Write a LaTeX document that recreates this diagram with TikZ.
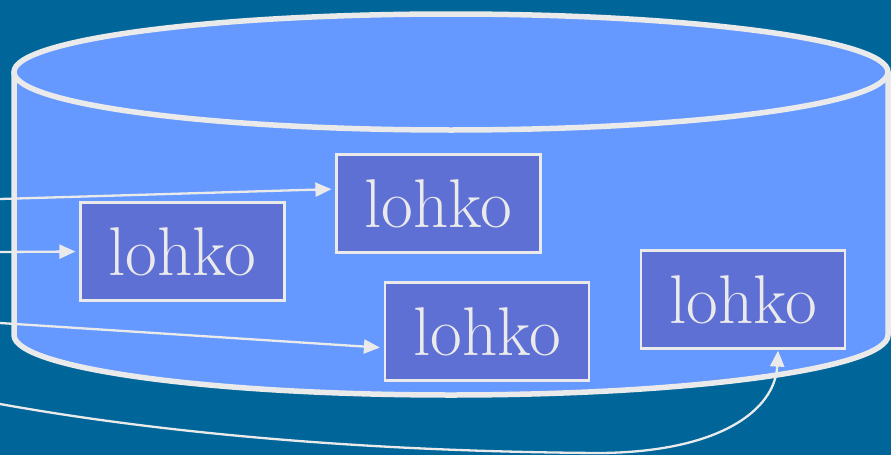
\documentclass[tikz,border=0pt]{standalone}
\usepackage{tikz}
\usetikzlibrary{positioning,arrows.meta}
\definecolor{bg}{RGB}{0,102,153}
\definecolor{cylfill}{RGB}{102,153,255}
\definecolor{blkfill}{RGB}{95,112,213}
\definecolor{edge}{RGB}{234,234,234}

\begin{document}
\begin{tikzpicture}[x=1pt,y=-1pt,
    >={Triangle[length=16pt,width=14pt]},
    blk/.style={draw=edge,line width=2.2pt,fill=blkfill,text=edge,minimum width=204pt,
      minimum height=98pt,inner sep=0pt,font=\fontsize{69}{70}\selectfont},
    lnk/.style={draw=edge,line width=2.3pt,->,shorten >=4pt},
    cyl/.style={draw=edge,line width=5.5pt}]
  \fill[bg] (0,0) rectangle (891,455);
  \useasboundingbox (0,0) rectangle (891,455);
  % disk
  \fill[cylfill] (14,72) -- (14,335) arc[start angle=180,end angle=0,x radius=437,y radius=60] -- (888,72) -- cycle;
  \fill[cylfill] (451,72) ellipse[x radius=437,y radius=58];
  \draw[cyl] (14,72) -- (14,335) arc[start angle=180,end angle=0,x radius=437,y radius=60] -- (888,72);
  \draw[cyl] (451,72) ellipse[x radius=437,y radius=58];
  % blocks
  \node[blk] (b1) at (438.5,203.5) {lohko};
  \node[blk] (b2) at (182.5,251.5) {lohko};
  \node[blk] (b3) at (487,331.5) {lohko};
  \node[blk] (b4) at (743,299.5) {lohko};
  \coordinate (in1) at (0,199);
  \coordinate (in2) at (0,252);
  \coordinate (in3) at (0,323);
  \coordinate (in4) at (0,404);
  \draw[lnk] (in1) -- (b1.172);
  \draw[lnk] (in2) -- (b2.west);
  \draw[lnk] (in3) -- (b3.189);
  \draw[lnk,shorten >=1pt] (in4) .. controls (200,440) and (420,452) .. (600,453)
    .. controls (720,452) and (775,410) .. (b4.-55);
\end{tikzpicture}
\end{document}
